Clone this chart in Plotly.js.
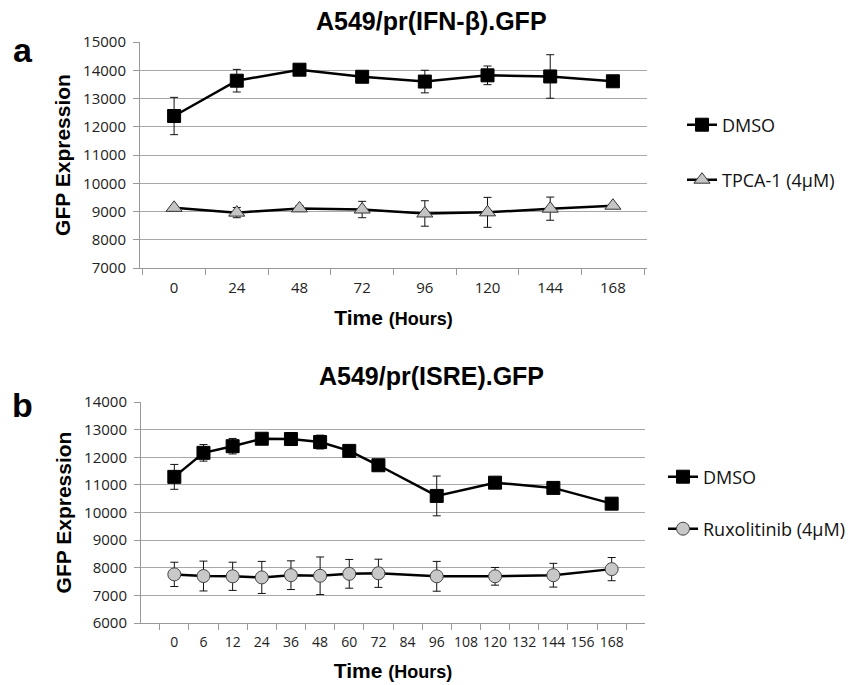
<!DOCTYPE html>
<html>
<head>
<meta charset="utf-8">
<script src="https://cdn.plot.ly/plotly-3.0.1.min.js"></script>
<style>html,body{margin:0;padding:0;background:#fff;}#chart{width:856px;height:685px;}</style>
</head>
<body>
<div id="chart"></div>
<script>
// ---- Panel a: A549/pr(IFN-β).GFP ----
const timeA = ["0","24","48","72","96","120","144","168"];
const dmsoA = [12380, 13630, 14020, 13770, 13600, 13820, 13780, 13610];
const dmsoAErr = [660, 400, 60, 180, 400, 330, 770, 0];
const tpcaA = [9130, 8960, 9110, 9070, 8930, 8970, 9100, 9205];
const tpcaAErr = [60, 180, 90, 290, 450, 530, 410, 0];

// ---- Panel b: A549/pr(ISRE).GFP ----
const timeB = ["0","6","12","24","36","48","60","72","84","96","108","120","132","144","156","168"];
const dmsoB = [11290, 12160, 12400, 12670, 12660, 12550, 12230, 11710, null, 10600, null, 11080, null, 10890, null, 10320];
const dmsoBErr = [450, 300, 280, 100, 80, 250, 60, 80, 0, 720, 0, 0, 0, 0, 0, 0];
const ruxB = [7760, 7700, 7690, 7650, 7730, 7710, 7780, 7800, null, 7690, null, 7690, null, 7730, null, 7950];
const ruxBErr = [440, 540, 510, 580, 520, 680, 520, 510, 0, 540, 0, 320, 0, 430, 0, 420];

const W = 856, H = 685;
const px = v => v / W;
const py = v => 1 - v / H;

const tickFont = {family: "Open Sans, sans-serif", size: 15, color: "#222"};
const boldFont = {family: "Liberation Sans, Arial, sans-serif", size: 21, color: "#000"};
const legFont = {family: "Open Sans, sans-serif", size: 18, color: "#111"};

function errBar(arr) {
  return {type: "data", array: arr, visible: true, color: "#111", thickness: 1, width: 4};
}

const traces = [
  {x: timeA, y: dmsoA, name: "DMSO", type: "scatter", mode: "lines+markers",
   xaxis: "x", yaxis: "y", legend: "legend",
   line: {color: "#000", width: 2.5},
   marker: {symbol: "square", size: 13, color: "#000", line: {color: "#000", width: 1}},
   error_y: errBar(dmsoAErr)},
  {x: timeA, y: tpcaA, name: "TPCA-1 (4µM)", type: "scatter", mode: "lines+markers",
   xaxis: "x", yaxis: "y", legend: "legend2",
   line: {color: "#000", width: 2.5},
   marker: {symbol: "triangle-up", size: 14, color: "#c4c4c4", line: {color: "#333", width: 1}},
   error_y: errBar(tpcaAErr)},
  {x: timeB, y: dmsoB, name: "DMSO", type: "scatter", mode: "lines+markers", connectgaps: true,
   xaxis: "x2", yaxis: "y2", legend: "legend3",
   line: {color: "#000", width: 2.5},
   marker: {symbol: "square", size: 13, color: "#000", line: {color: "#000", width: 1}},
   error_y: errBar(dmsoBErr)},
  {x: timeB, y: ruxB, name: "Ruxolitinib (4µM)", type: "scatter", mode: "lines+markers", connectgaps: true,
   xaxis: "x2", yaxis: "y2", legend: "legend4",
   line: {color: "#000", width: 2.5},
   marker: {symbol: "circle", size: 13, color: "#c8c8c8", line: {color: "#444", width: 1}},
   error_y: errBar(ruxBErr)}
];

function xAxis(domain, cats, anchor, size) {
  return {
    domain: domain, anchor: anchor, type: "category",
    categoryorder: "array", categoryarray: cats,
    tickson: "boundaries", ticks: "outside", ticklen: 6, tickcolor: "#999",
    showline: true, linecolor: "#999", linewidth: 1,
    showgrid: false, zeroline: false, tickangle: 0,
    tickfont: Object.assign({}, tickFont, {size: size}), ticklabelstandoff: 6,
    fixedrange: true
  };
}
function yAxis(domain, range, anchor) {
  return {
    domain: domain, anchor: anchor, range: range, dtick: 1000, tickformat: "d",
    ticks: "outside", ticklen: 6, tickcolor: "#999",
    showline: true, linecolor: "#999", linewidth: 1,
    showgrid: true, gridcolor: "#a8a8a8", gridwidth: 1,
    zeroline: false, tickfont: tickFont, ticklabelstandoff: 4,
    fixedrange: true
  };
}

const xTitle = "<b>Time <span style='font-size:18px'>(Hours)</span></b>";
const xa = xAxis([px(140), px(647)], timeA, "y", 15);
xa.title = {text: xTitle, font: boldFont, standoff: 14};
const ya = yAxis([py(268), py(42)], [7000, 15000], "x");
ya.title = {text: "<b>GFP Expression</b>", font: boldFont, standoff: 6};

const xb = xAxis([px(141), px(645)], timeB, "y2", 14);
xb.title = {text: xTitle, font: boldFont, standoff: 13};
const yb = yAxis([py(623), py(402)], [6000, 14000], "x2");
yb.title = {text: "<b>GFP Expression</b>", font: boldFont, standoff: 6};

function leg(x, y) {
  return {x: px(x), y: py(y), xanchor: "left", yanchor: "middle", xref: "paper", yref: "paper",
          font: legFont, bgcolor: "rgba(0,0,0,0)", borderwidth: 0};
}

const layout = {
  width: W, height: H,
  margin: {l: 0, r: 0, t: 0, b: 0},
  paper_bgcolor: "#fff", plot_bgcolor: "#fff",
  showlegend: true,
  xaxis: xa, yaxis: ya, xaxis2: xb, yaxis2: yb,
  legend: leg(682, 125), legend2: leg(682, 180),
  legend3: leg(663, 477), legend4: leg(663, 529),
  annotations: [
    {text: "<b>A549/pr(IFN-β).GFP</b>", x: px(431), y: py(21), xref: "paper", yref: "paper",
     showarrow: false, xanchor: "center", yanchor: "middle",
     font: {family: "Liberation Sans, Arial, sans-serif", size: 25, color: "#000"}},
    {text: "<b>A549/pr(ISRE).GFP</b>", x: px(431), y: py(376), xref: "paper", yref: "paper",
     showarrow: false, xanchor: "center", yanchor: "middle",
     font: {family: "Liberation Sans, Arial, sans-serif", size: 25, color: "#000"}},
    {text: "<b>a</b>", x: px(23), y: py(50), xref: "paper", yref: "paper",
     showarrow: false, xanchor: "center", yanchor: "middle",
     font: {family: "Liberation Sans, Arial, sans-serif", size: 34, color: "#000"}},
    {text: "<b>b</b>", x: px(22), y: py(405), xref: "paper", yref: "paper",
     showarrow: false, xanchor: "center", yanchor: "middle",
     font: {family: "Liberation Sans, Arial, sans-serif", size: 34, color: "#000"}}
  ]
};

Plotly.newPlot("chart", traces, layout, {displayModeBar: false, staticPlot: true});
</script>
</body>
</html>
